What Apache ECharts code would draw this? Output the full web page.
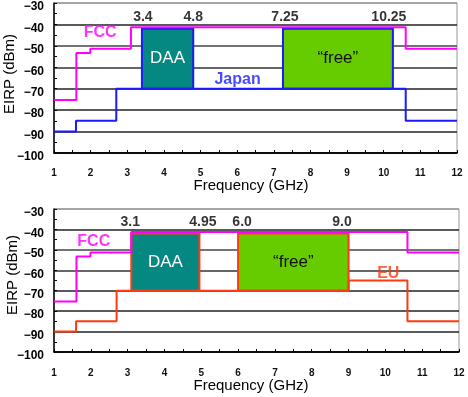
<!DOCTYPE html>
<html><head><meta charset="utf-8">
<script src="https://cdn.jsdelivr.net/npm/echarts@6/dist/echarts.min.js"></script>
<style>html,body{margin:0;padding:0;background:#fff}#c{width:468px;height:397px}</style>
</head><body><div id="c"></div>
<script>
// ---- data ----
const freqTicks = [1,2,3,4,5,6,7,8,9,10,11,12];
const eirpTicks = [-100,-90,-80,-70,-60,-50,-40,-30];
const fccBreaks = [1, 1.61, 1.99, 3.1, 10.6, 12];
const fccLevels = [-75.3, -53.3, -51.3, -41.3, -51.3];
const japanBreaks = [1, 1.6, 2.7, 10.6, 12];
const japanLevels = [-90, -85, -70, -85];
const euBreaks = [1, 1.6, 2.7, 9, 10.6, 12];
const euLevels = [-90, -85, -70, -65, -85];
const japanDAA = [3.4, 4.8];
const japanFree = [7.25, 10.25];
const euDAA = [3.1, 4.95];
const euFree = [6.0, 9.0];
const boxRange = [-70, -42];
const japanEdgeLabels = ['3.4', '4.8', '7.25', '10.25'];
const euEdgeLabels = ['3.1', '4.95', '6.0', '9.0'];
const edgeLabelLevel = -36.5;
const regionNames = ['FCC', 'Japan', 'EU'];
const boxNames = ['DAA', '\u201cfree\u201d'];

// ---- styles ----
const FONT = "'Liberation Sans', Arial, sans-serif";
const C_FCC = '#ff00ff', C_JP = '#1a1aff', C_EU = '#ff3a10';
const C_DAA = '#058882', C_FREE = '#66cc00';
const japanEdgeShift = [1, 0, 2, -4];
const euEdgeShift = [-1, 3.5, 4, -6.5];

function steps(b, l) {
  const p = [];
  for (let i = 0; i < l.length; i++) { p.push([b[i], l[i]]); p.push([b[i + 1], l[i]]); }
  return p;
}
function boxes(daa, free, border) {
  const lab = (txt, col) => ({show: true, position: 'inside', color: col, fontSize: 17, fontFamily: FONT, formatter: txt});
  return [
    [{xAxis: daa[0], yAxis: boxRange[0], itemStyle: {color: C_DAA, borderColor: border, borderWidth: 2, opacity: 1}, label: lab(boxNames[0], '#fff')},
     {xAxis: daa[1], yAxis: boxRange[1]}],
    [{xAxis: free[0], yAxis: boxRange[0], itemStyle: {color: C_FREE, borderColor: border, borderWidth: 2, opacity: 1}, label: lab(boxNames[1], '#111')},
     {xAxis: free[1], yAxis: boxRange[1]}]
  ];
}
const gridLineColors = ['#000', '#222', '#222', '#222', '#333', '#444', '#222', '#999'];
function xAx(gi, margin) {
  return {
    gridIndex: gi, type: 'value', min: freqTicks[0], max: freqTicks[freqTicks.length - 1], interval: 1,
    axisLine: {show: true, onZero: false, lineStyle: {color: '#000', width: 1.5}},
    axisTick: {show: true, inside: true, length: 3, lineStyle: {color: '#000'}},
    minorTick: {show: true, splitNumber: 2, length: 3, lineStyle: {color: '#000'}},
    axisLabel: {margin: margin, fontSize: 10, fontWeight: 'bold', color: '#111', fontFamily: FONT},
    splitLine: {show: false}
  };
}
function yAx(gi) {
  return {
    gridIndex: gi, type: 'value', min: eirpTicks[0], max: eirpTicks[eirpTicks.length - 1], interval: 10,
    axisLine: {show: true, lineStyle: {color: '#000', width: 1.5}},
    axisTick: {show: true, inside: true, length: 3, lineStyle: {color: '#000'}},
    minorTick: {show: true, splitNumber: 2, length: 3, lineStyle: {color: '#000'}},
    axisLabel: {margin: 10, fontSize: 12, fontWeight: 'bold', color: '#000', fontFamily: FONT,
      lineHeight: 8, formatter: v => '\n' + String(v).replace('-', '\u2212')},
    splitLine: {show: true, lineStyle: {color: gridLineColors, width: 1.5}}
  };
}
function edgeSeries(gi, xs, labels, shifts) {
  return {
    type: 'scatter', xAxisIndex: gi, yAxisIndex: gi, symbolSize: 0, z: 10, silent: true,
    data: xs.map((x, i) => ({value: [x, edgeLabelLevel], name: labels[i], label: {offset: [shifts[i], 0]}})),
    label: {show: true, position: 'inside', formatter: p => p.name, fontSize: 14, fontWeight: 'bold', color: '#000', fontFamily: FONT}
  };
}
function nameSeries(gi, pts) {
  return {
    type: 'scatter', xAxisIndex: gi, yAxisIndex: gi, symbolSize: 0, z: 10, silent: true,
    data: pts.map(p => ({value: [p[0], p[1]], name: p[2], label: {color: p[3]}})),
    label: {show: true, position: 'inside', formatter: p => p.name, fontSize: 16, fontWeight: 'bold', fontFamily: FONT}
  };
}

const chart = echarts.init(document.getElementById('c'), null, {renderer: 'canvas'});
chart.setOption({
  animation: false,
  backgroundColor: '#fff',
  grid: [
    {left: 54, top: 3, width: 403, height: 150, show: true, borderColor: '#999', borderWidth: 1, backgroundColor: 'transparent', containLabel: false, outerBoundsMode: 'none'},
    {left: 54, top: 209, width: 405, height: 143, show: true, borderColor: '#999', borderWidth: 1, backgroundColor: 'transparent', containLabel: false, outerBoundsMode: 'none'}
  ],
  xAxis: [xAx(0, 15), xAx(1, 16)],
  yAxis: [yAx(0), yAx(1)],
  graphic: [
    {type: 'text', x: 251, y: 186, style: {text: 'Frequency (GHz)', font: '15px ' + FONT, fill: '#000', textAlign: 'center', textVerticalAlign: 'middle'}},
    {type: 'text', x: 251, y: 386, style: {text: 'Frequency (GHz)', font: '15px ' + FONT, fill: '#000', textAlign: 'center', textVerticalAlign: 'middle'}},
    {type: 'text', x: 10, y: 74, rotation: Math.PI / 2, style: {text: 'EIRP (dBm)', font: '15px ' + FONT, fill: '#000', textAlign: 'center', textVerticalAlign: 'middle'}},
    {type: 'text', x: 13, y: 275, rotation: Math.PI / 2, style: {text: 'EIRP (dBm)', font: '15px ' + FONT, fill: '#000', textAlign: 'center', textVerticalAlign: 'middle'}}
  ],
  series: [
    {type: 'line', xAxisIndex: 0, yAxisIndex: 0, data: steps(japanBreaks, japanLevels), symbol: 'none', z: 3,
     lineStyle: {color: C_JP, width: 2}, markArea: {silent: true, data: boxes(japanDAA, japanFree, C_JP)}},
    {type: 'line', xAxisIndex: 0, yAxisIndex: 0, data: steps(fccBreaks, fccLevels), symbol: 'none', z: 5,
     lineStyle: {color: C_FCC, width: 2}},
    edgeSeries(0, [...japanDAA, ...japanFree], japanEdgeLabels, japanEdgeShift),
    nameSeries(0, [[2.26, -44, regionNames[0], C_FCC], [6.01, -65.9, regionNames[1], C_JP]]),

    {type: 'line', xAxisIndex: 1, yAxisIndex: 1, data: steps(euBreaks, euLevels), symbol: 'none', z: 3,
     lineStyle: {color: C_EU, width: 2}, markArea: {silent: true, data: boxes(euDAA, euFree, C_EU)}},
    {type: 'line', xAxisIndex: 1, yAxisIndex: 1, data: steps(fccBreaks, fccLevels), symbol: 'none', z: 5,
     lineStyle: {color: C_FCC, width: 2}},
    edgeSeries(1, [...euDAA, ...euFree], euEdgeLabels, euEdgeShift),
    nameSeries(1, [[2.08, -45.9, regionNames[0], C_FCC], [10.08, -61.4, regionNames[2], C_EU]])
  ]
});
</script></body></html>
